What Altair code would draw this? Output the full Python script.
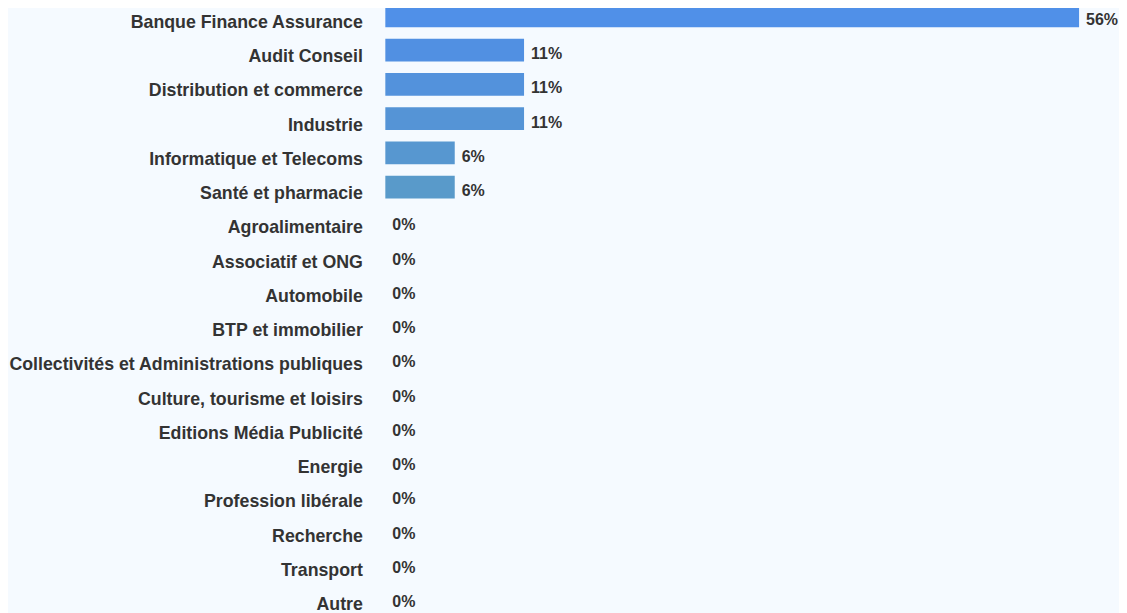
import altair as alt
import pandas as pd

categories = [
    "Banque Finance Assurance", "Audit Conseil", "Distribution et commerce",
    "Industrie", "Informatique et Telecoms", "Santé et pharmacie",
    "Agroalimentaire", "Associatif et ONG", "Automobile", "BTP et immobilier",
    "Collectivités et Administrations publiques", "Culture, tourisme et loisirs",
    "Editions Média Publicité", "Energie", "Profession libérale", "Recherche",
    "Transport", "Autre",
]
values = [55.56, 11.11, 11.11, 11.11, 5.56, 5.56, 0, 0, 0, 0, 0, 0, 0, 0, 0, 0, 0, 0]
labels = ["56%", "11%", "11%", "11%", "6%", "6%", "0%", "0%", "0%", "0%",
          "0%", "0%", "0%", "0%", "0%", "0%", "0%", "0%"]

bar_colors = ["#5090e8", "#5190e2", "#5392dc", "#5594d6", "#5797d0", "#599aca",
              "#5b9cc4", "#5d9ebe", "#5fa0b8", "#61a2b2", "#63a4ac", "#65a6a6",
              "#67a8a0", "#69aa9a", "#6bac94", "#6dae8e", "#6fb088", "#71b282"]

df = pd.DataFrame({"category": categories, "value": values, "label": labels})

y = alt.Y("category:N", sort=categories, title=None,
          scale=alt.Scale(paddingInner=0.34, paddingOuter=0.0),
          axis=alt.Axis(ticks=False, domain=False, grid=False, labelPadding=23,
                        labelFont="Liberation Sans", labelFontWeight="bold",
                        labelFontSize=17.8, labelColor="#333333", labelOffset=7,
                        labelLimit=600))
x = alt.X("value:Q", title=None, scale=alt.Scale(domain=[0, 55.56], nice=False, zero=True),
          axis=None)

bars = alt.Chart(df).mark_bar().encode(
    y=y, x=x,
    color=alt.Color("category:N", scale=alt.Scale(domain=categories, range=bar_colors), legend=None),
)
text = alt.Chart(df).mark_text(
    align="left", baseline="middle", dx=7, dy=4,
    font="Liberation Sans", fontWeight="bold", fontSize=16, color="#333333",
).encode(y=y, x=x, text="label:N")

chart = (bars + text).properties(
    width=695, height=606, background="#f5faff",
    padding={"left": 0, "top": -4, "right": 0, "bottom": 0},
).configure_view(stroke=None)

chart.save("out.html", embed_options={"renderer": "svg", "actions": False})
